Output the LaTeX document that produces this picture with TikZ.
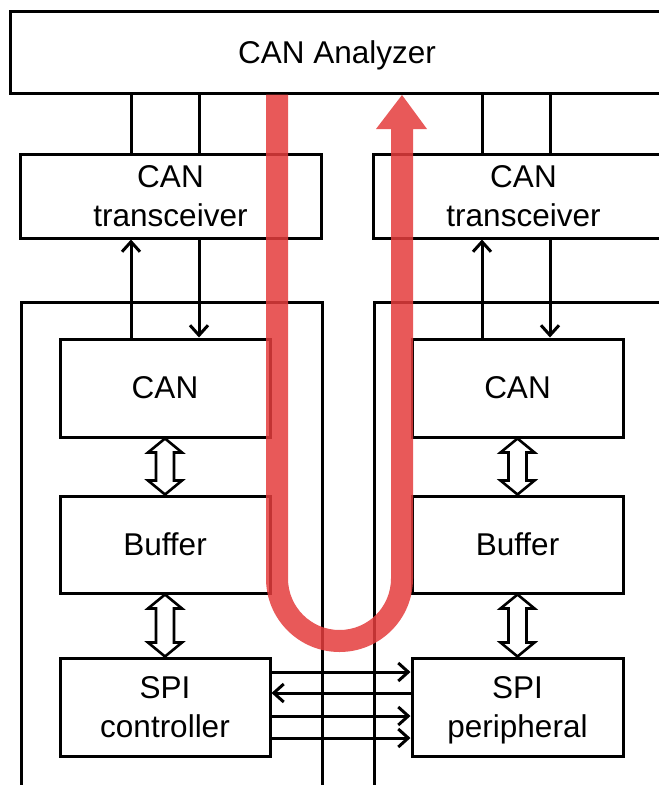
\documentclass[tikz,border=0pt]{standalone}
\usepackage{fontspec}
\setmainfont{Liberation Sans}
\usetikzlibrary{arrows.meta,calc}
\definecolor{redarr}{RGB}{228,60,60}
\tikzset{
  box/.style={draw=black, line width=3pt, fill=white, inner sep=0pt, align=center,
    font=\fontsize{31.5}{38.5}\selectfont},
  wire/.style={draw=black, line width=3pt},
  arr/.style={wire, -{Straight Barb[length=10pt,width=18pt]}},
  hollow/.style={draw=black, line width=2.6pt, fill=white, line join=miter},
  band/.style={fill=redarr, fill opacity=0.85},
}
\newcommand\nodep[1]{\raisebox{0pt}[\height][0pt]{#1}}
\newcommand\hollowdbl[2]{%
  \draw[hollow] (#1.south) -- ++(17,14) -- ++(-8,0) -- ($(#2.north)+(9,-14)$) -- ++(8,0)
    -- (#2.north) -- ++(-17,-14) -- ++(8,0) -- ($(#1.south)+(-9,14)$) -- ++(-8,0) -- cycle;}
\begin{document}
\begin{tikzpicture}[x=1pt,y=-1pt]
\useasboundingbox (0,0) rectangle (659,785);
\clip (0,0) rectangle (659,785);
% chips
\node[box, anchor=north west, minimum width=301pt, minimum height=520pt] (chipL) at (20,301) {};
\node[box, anchor=north west, minimum width=301pt, minimum height=520pt] (chipR) at (373,301) {};
% analyzer and transceivers
\node[box, minimum width=654pt, minimum height=82pt] (ana) at (337,52) {\nodep{CAN Analyzer}};
\node[box, minimum width=301pt, minimum height=84pt] (tl) at (170.5,196) {CAN\\transceiver};
\node[box, minimum width=301pt, minimum height=84pt] (tr) at (523.5,196) {CAN\\transceiver};
% inner blocks
\node[box, minimum width=210pt, minimum height=98pt] (cl) at (165,388) {CAN};
\node[box, minimum width=211pt, minimum height=98pt] (cr) at (517.5,388) {CAN};
\node[box, minimum width=210pt, minimum height=97pt] (bl) at (165,544.5) {Buffer};
\node[box, minimum width=211pt, minimum height=97pt] (br) at (517.5,544.5) {Buffer};
\node[box, minimum width=210pt, minimum height=98pt] (sc) at (165,707) {SPI\\controller};
\node[box, minimum width=211pt, minimum height=98pt] (sp) at (517.5,707) {SPI\\\nodep{peripheral}};
% helper coordinates
\coordinate (xa) at (131,0);
\coordinate (xb) at (199,0);
\coordinate (xc) at (482,0);
\coordinate (xd) at (550,0);
\coordinate (s1) at (0,672);
\coordinate (s2) at (0,693);
\coordinate (s3) at (0,716);
\coordinate (s4) at (0,738);
% analyzer to transceivers
\draw[wire] (ana.south -| xa) -- (tl.north -| xa);
\draw[wire] (ana.south -| xb) -- (tl.north -| xb);
\draw[wire] (ana.south -| xc) -- (tr.north -| xc);
\draw[wire] (ana.south -| xd) -- (tr.north -| xd);
% transceiver <-> CAN
\draw[arr] (cl.north -| xa) -- (tl.south -| xa);
\draw[arr] (tl.south -| xb) -- (cl.north -| xb);
\draw[arr] (cr.north -| xc) -- (tr.south -| xc);
\draw[arr] (tr.south -| xd) -- (cr.north -| xd);
% hollow double arrows
\hollowdbl{cl}{bl}
\hollowdbl{bl}{sc}
\hollowdbl{cr}{br}
\hollowdbl{br}{sp}
% SPI lines
\draw[arr] (sc.east |- s1) -- (sp.west |- s1);
\draw[arr] (sp.west |- s2) -- (sc.east |- s2);
\draw[arr] (sc.east |- s3) -- (sp.west |- s3);
\draw[arr] (sc.east |- s4) -- (sp.west |- s4);
% red U arrow
\path[band] (266,94.5) -- (266,578.5) arc[start angle=180,end angle=0,radius=73.5]
  -- (413,129) -- (427,129) -- (402,95) -- (376,129) -- (391,129) -- (391,578.5)
  arc[start angle=0,end angle=180,radius=51.5] -- (288,94.5) -- cycle;
\end{tikzpicture}
\end{document}
